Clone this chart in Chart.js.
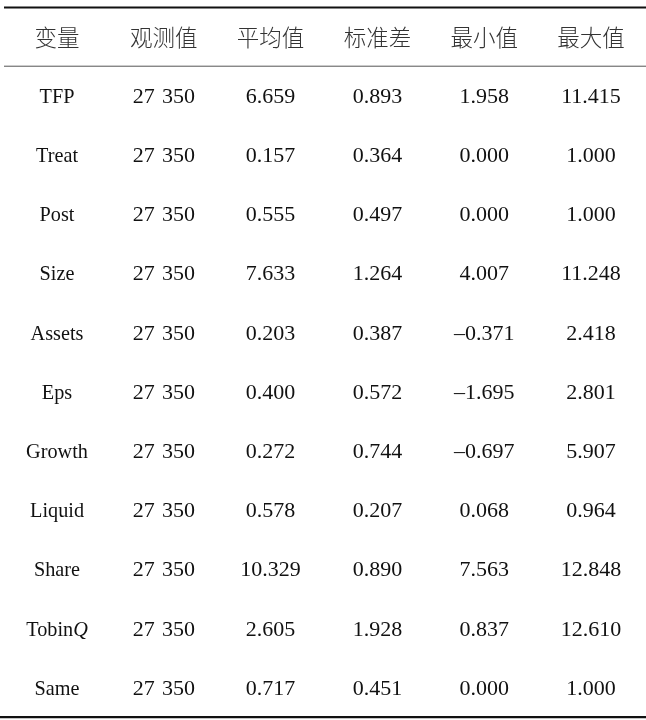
<!DOCTYPE html>
<html>
<head>
<meta charset="utf-8">
<script src="https://cdn.jsdelivr.net/npm/chart.js@4.4.1/dist/chart.umd.min.js"></script>
<style>
  html, body { margin: 0; padding: 0; background: #fff; }
  canvas { display: block; }
</style>
</head>
<body>
<canvas id="table-chart" width="646" height="720"></canvas>
<script>
const headers = ['变量', '观测值', '平均值', '标准差', '最小值', '最大值'];
const variables = ['TFP', 'Treat', 'Post', 'Size', 'Assets', 'Eps', 'Growth', 'Liquid', 'Share', 'TobinQ', 'Same'];
const observations = [27350, 27350, 27350, 27350, 27350, 27350, 27350, 27350, 27350, 27350, 27350];
const means = [6.659, 0.157, 0.555, 7.633, 0.203, 0.400, 0.272, 0.578, 10.329, 2.605, 0.717];
const stdDevs = [0.893, 0.364, 0.497, 1.264, 0.387, 0.572, 0.744, 0.207, 0.890, 1.928, 0.451];
const minimums = [1.958, 0.000, 0.000, 4.007, -0.371, -1.695, -0.697, 0.068, 7.563, 0.837, 0.000];
const maximums = [11.415, 1.000, 1.000, 11.248, 2.418, 2.801, 5.907, 0.964, 12.848, 12.610, 1.000];

// names whose last letter is set in italics
const italicTail = { 'TobinQ': 1 };

function formatObs(n) {
    const s = String(n);
    return s.slice(0, s.length - 3) + ' \u200A' + s.slice(-3);
}

function formatNum(n) {
    const s = Math.abs(n).toFixed(3);
    return n < 0 ? '\u2013' + s : s;
}

const columns = [
    variables,
    observations.map(formatObs),
    means.map(formatNum),
    stdDevs.map(formatNum),
    minimums.map(formatNum),
    maximums.map(formatNum)
];

const datasets = columns.map((col, c) => ({
    label: headers[c],
    data: col.map((text, r) => ({ x: c, y: r, text: text })),
    pointRadius: 0,
    showLine: false
}));

datasets.push({
    label: 'header',
    data: headers.map((h, c) => ({ x: c, y: -1, text: h, header: true })),
    pointRadius: 0,
    showLine: false
});

const SERIF = '22px "Liberation Serif", "Times New Roman", serif';
const CJK = '300 22.5px "Noto Sans CJK SC", sans-serif';

const tablePlugin = {
    id: 'tableText',
    beforeDraw(chart) {
        const ctx = chart.ctx;
        ctx.save();
        ctx.fillStyle = '#fff';
        ctx.fillRect(0, 0, chart.width, chart.height);
        ctx.restore();
    },
    afterDatasetsDraw(chart) {
        const ctx = chart.ctx;
        const y = chart.scales.y;
        ctx.save();

        // rules
        ctx.strokeStyle = '#111';
        ctx.lineWidth = 2.2;
        ctx.beginPath();
        ctx.moveTo(4, y.getPixelForValue(-1.512));
        ctx.lineTo(chart.width, y.getPixelForValue(-1.512));
        ctx.stroke();

        ctx.strokeStyle = '#555';
        ctx.lineWidth = 1;
        ctx.beginPath();
        ctx.moveTo(4, y.getPixelForValue(-0.52));
        ctx.lineTo(chart.width, y.getPixelForValue(-0.52));
        ctx.stroke();

        ctx.strokeStyle = '#111';
        ctx.lineWidth = 2.4;
        ctx.beginPath();
        ctx.moveTo(0, y.getPixelForValue(10.475));
        ctx.lineTo(chart.width, y.getPixelForValue(10.475));
        ctx.stroke();

        ctx.textBaseline = 'middle';
        chart.data.datasets.forEach((ds, i) => {
            const meta = chart.getDatasetMeta(i);
            meta.data.forEach((pt, j) => {
                const item = ds.data[j];
                if (item.header) {
                    ctx.font = CJK;
                    ctx.fillStyle = '#333';
                    ctx.textAlign = 'center';
                    ctx.fillText(item.text, pt.x, pt.y);
                    return;
                }
                ctx.font = SERIF;
                ctx.fillStyle = '#111';
                if (i === 0) {
                    // variable names are set a little narrower
                    ctx.save();
                    ctx.translate(pt.x, pt.y);
                    ctx.scale(0.92, 1);
                    const tail = italicTail[item.text];
                    if (tail) {
                        const head = item.text.slice(0, -tail);
                        const rest = item.text.slice(-tail);
                        const w1 = ctx.measureText(head).width;
                        ctx.font = 'italic ' + SERIF;
                        const w2 = ctx.measureText(rest).width;
                        const left = -(w1 + w2) / 2;
                        ctx.textAlign = 'left';
                        ctx.font = SERIF;
                        ctx.fillText(head, left, 0);
                        ctx.font = 'italic ' + SERIF;
                        ctx.fillText(rest, left + w1, 0);
                    } else {
                        ctx.textAlign = 'center';
                        ctx.fillText(item.text, 0, 0);
                    }
                    ctx.restore();
                } else {
                    ctx.textAlign = 'center';
                    ctx.fillText(item.text, pt.x, pt.y);
                }
            });
        });
        ctx.restore();
    }
};

new Chart(document.getElementById('table-chart').getContext('2d'), {
    type: 'scatter',
    data: { datasets: datasets },
    options: {
        responsive: false,
        animation: false,
        layout: { padding: 0 },
        plugins: {
            legend: { display: false },
            tooltip: { enabled: false }
        },
        scales: {
            x: { type: 'linear', min: -0.534, max: 5.515, display: false },
            y: { type: 'linear', reverse: true, min: -1.6385, max: 10.524, display: false }
        }
    },
    plugins: [tablePlugin]
});
</script>
</body>
</html>
